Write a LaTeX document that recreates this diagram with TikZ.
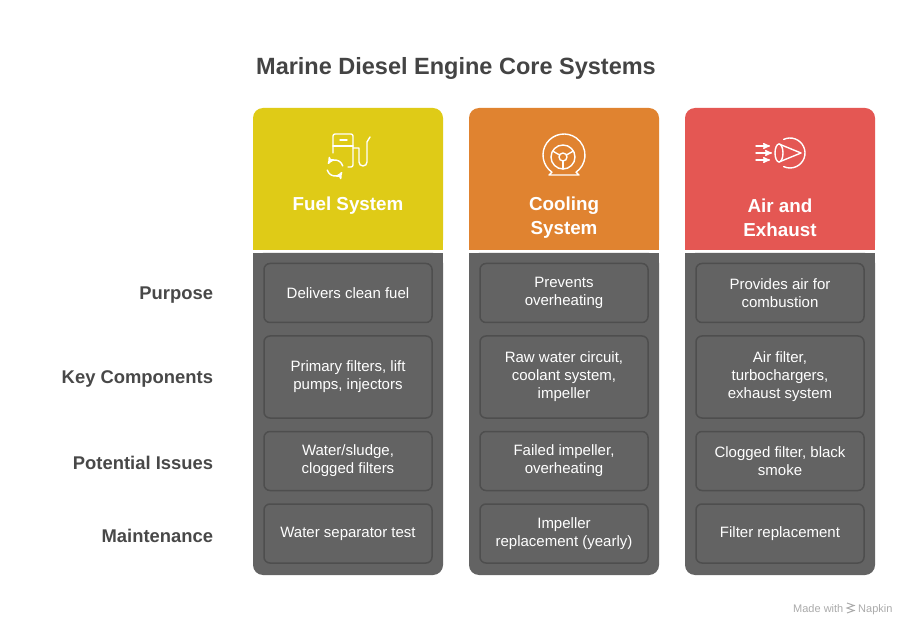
\documentclass[tikz,border=0pt]{standalone}
\usepackage{fontspec}
\setmainfont{Liberation Sans}
\usepackage{xcolor}
\usetikzlibrary{arrows,calc,positioning}
\definecolor{fuelcolor}{HTML}{DFCB17}
\definecolor{coolcolor}{HTML}{E08330}
\definecolor{aircolor}{HTML}{E45753}
\definecolor{bodygray}{HTML}{636363}
\definecolor{cellborder}{HTML}{4E4E4E}
\definecolor{titlegray}{HTML}{444444}
\definecolor{labelgray}{HTML}{484848}
\definecolor{footgray}{HTML}{ABABAB}

\begin{document}
\begin{tikzpicture}[x=1pt,y=-1pt,node distance=12pt]
\tikzstyle{head}=[rectangle,rounded corners=10pt,minimum width=190pt,minimum height=142pt,inner sep=0pt,outer sep=0pt]
\tikzstyle{body}=[rectangle,rounded corners=10pt,fill=bodygray,minimum width=190pt,minimum height=322pt,inner sep=0pt,outer sep=0pt]
\tikzstyle{cell}=[rectangle,rounded corners=6pt,draw=cellborder,line width=1.5pt,fill=bodygray,minimum width=168pt,minimum height=59pt,inner sep=0pt,text=white,align=center,font=\fontsize{15}{18}\selectfont]
\tikzstyle{tall cell}=[cell,minimum height=82pt]
\tikzstyle{rowlabel}=[inner sep=0pt,yshift=-2pt,text=labelgray,font=\bfseries\fontsize{18.4}{22}\selectfont]
\tikzstyle{headtext}=[text=white,align=center,font=\bfseries\fontsize{18.8}{24}\selectfont]
\tikzstyle{icon}=[draw=white,line width=1.4pt,line cap=round,line join=round]
\tikzstyle{foot}=[anchor=base west,inner sep=0pt,text=footgray,font=\fontsize{11}{13}\selectfont]

\fill[white] (0,0) rectangle (924,636);
\useasboundingbox (0,0) rectangle (924,636);

\node[text=titlegray,font=\bfseries\fontsize{23.5}{28}\selectfont] (title) at (456,68) {Marine Diesel Engine Core Systems};

% column heads
\node[head,fill=fuelcolor] (fuelhead) at (348,179) {};
\node[head,fill=coolcolor] (coolhead) at (564,179) {};
\node[head,fill=aircolor] (airhead) at (780,179) {};
\fill[fuelcolor] (fuelhead.west) rectangle (fuelhead.south east);
\fill[coolcolor] (coolhead.west) rectangle (coolhead.south east);
\fill[aircolor] (airhead.west) rectangle (airhead.south east);

\node[headtext] (fueltitle) at (348,206) {Fuel System};
\node[headtext] (cooltitle) at (564,218) {Cooling\\System};
\node[headtext] (airtitle) at (780,218) {Air and\\Exhaust};

% icons
\draw[icon,rounded corners=2pt] (333,153) -- (333,134) -- (353,134) -- (353,167) -- (348,167);
\draw[icon] (333,146) -- (353,146);
\draw[icon] (340,140) -- (347,140);
\draw[icon] (353,148) -- (359,148) -- (359,162) arc[start angle=180,end angle=360,radius=4pt] -- (367,142) -- (370,137);
\draw[icon,->,>=stealth'] ([shift={(15:8pt)}]335,168) arc[start angle=15,end angle=150,radius=8pt];
\draw[icon,->,>=stealth'] ([shift={(195:8pt)}]335,168) arc[start angle=195,end angle=330,radius=8pt];

\draw[icon] ([shift={(235:21pt)}]564,155) arc[start angle=235,end angle=-55,radius=21pt] -- (579,175) -- (549,175) -- cycle;
\draw[icon] (563,157) circle[radius=12pt];
\draw[icon] (563,157) circle[radius=4pt];
\foreach \a in {90,210,330}
  \draw[icon] ([shift={(\a+180:4pt)}]563,157) -- ([shift={(\a+180:12pt)}]563,157);

\draw[icon] ([shift={(115:15pt)}]790,153) arc[start angle=115,end angle=-115,radius=15pt];
\draw[icon] (779,153) ellipse[x radius=4pt,y radius=9pt];
\draw[icon] (779,144) -- (801,153) -- (779,162);
\draw[icon,->,>=stealth'] (756,146) -- (770,146);
\draw[icon,->,>=stealth'] (756,153) -- (772,153);
\draw[icon,->,>=stealth'] (756,160) -- (770,160);

% column bodies
\node[body] (fuelbody) at (348,414) {};
\node[body] (coolbody) at (564,414) {};
\node[body] (airbody) at (780,414) {};
\fill[bodygray] (fuelbody.north west) rectangle (fuelbody.east);
\fill[bodygray] (coolbody.north west) rectangle (coolbody.east);
\fill[bodygray] (airbody.north west) rectangle (airbody.east);

% cells
\node[cell] (fuelpurpose) at (348,293) {Delivers clean fuel};
\node[tall cell] (fuelparts) [below=of fuelpurpose] {Primary filters, lift\\pumps, injectors};
\node[cell] (fuelissues) [below=of fuelparts] {Water/sludge,\\clogged filters};
\node[cell] (fuelcare) [below=of fuelissues] {Water separator test};

\node[cell] (coolpurpose) at (564,293) {Prevents\\overheating};
\node[tall cell] (coolparts) [below=of coolpurpose] {Raw water circuit,\\coolant system,\\impeller};
\node[cell] (coolissues) [below=of coolparts] {Failed impeller,\\overheating};
\node[cell] (coolcare) [below=of coolissues] {Impeller\\replacement (yearly)};

\node[cell] (airpurpose) at (780,293) {Provides air for\\combustion};
\node[tall cell] (airparts) [below=of airpurpose] {Air filter,\\turbochargers,\\exhaust system};
\node[cell] (airissues) [below=of airparts] {Clogged filter, black\\smoke};
\node[cell] (aircare) [below=of airissues] {Filter replacement};

% row labels
\node[rowlabel] (purpose) [left=50pt of fuelpurpose] {Purpose};
\node[rowlabel] (parts) [left=50pt of fuelparts] {Key Components};
\node[rowlabel] (issues) [left=50pt of fuelissues] {Potential Issues};
\node[rowlabel] (care) [left=50pt of fuelcare] {Maintenance};

% footer
\node[foot] (madewith) at (793,612) {Made with};
\node[foot] (napkin) at (858,612) {Napkin};
\draw[footgray,line width=1pt] (847,603) -- (854,605.5) -- (847,608) -- (854,610.5) -- (847,613);
\end{tikzpicture}
\end{document}
